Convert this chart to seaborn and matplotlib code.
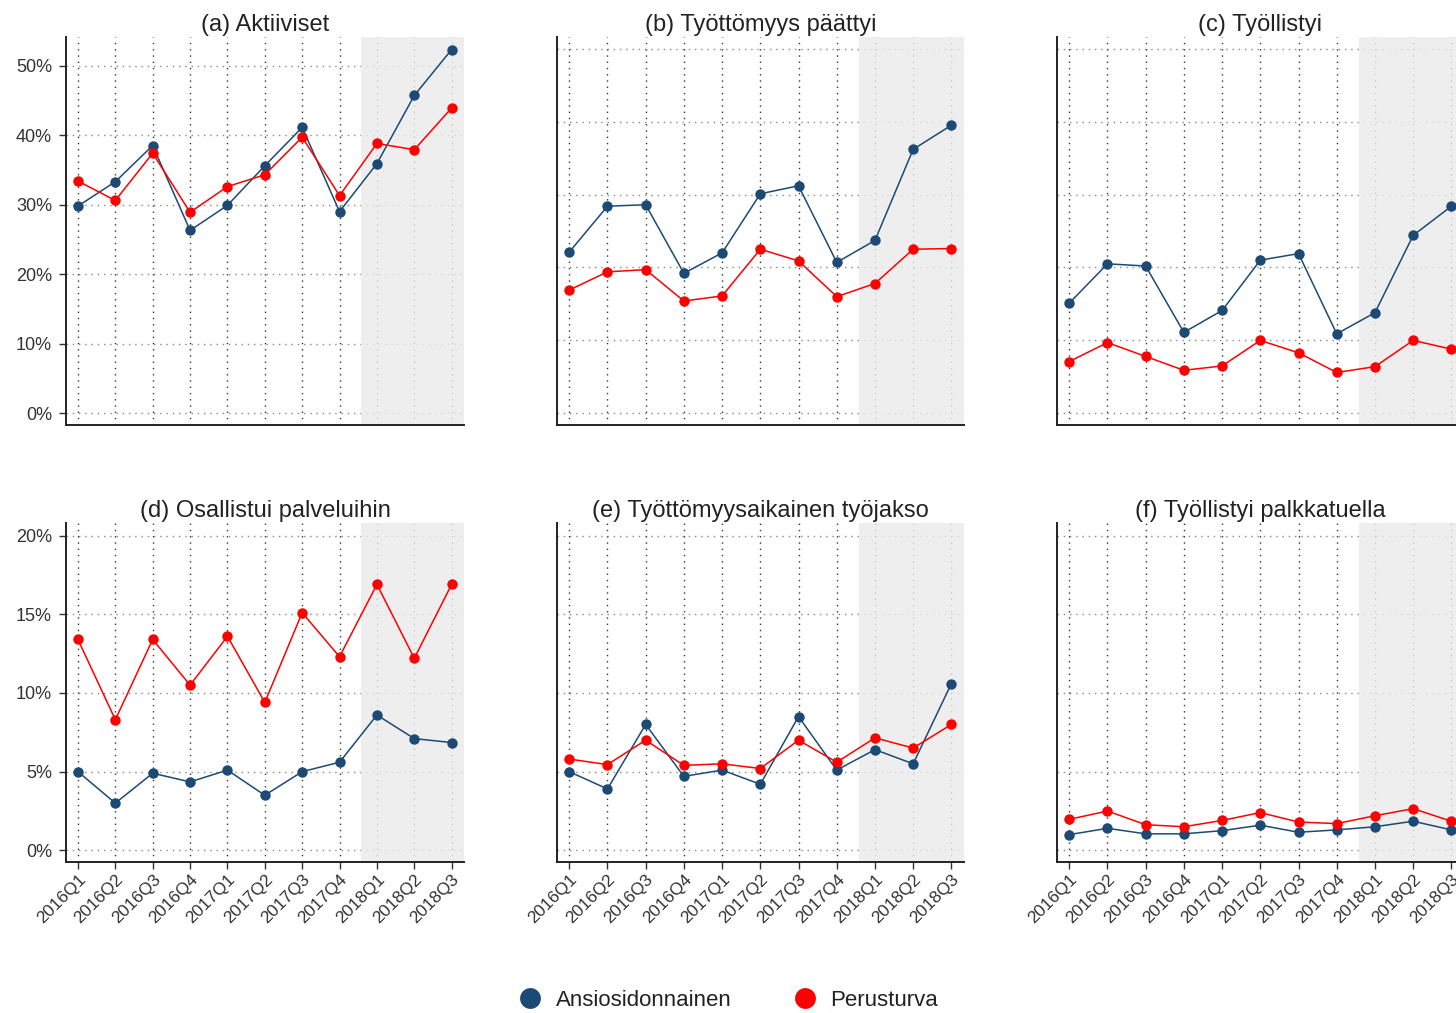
import numpy as np
import pandas as pd
import matplotlib
matplotlib.use("Agg")
import matplotlib.pyplot as plt
from matplotlib.lines import Line2D
from matplotlib.ticker import FuncFormatter
import seaborn as sns

quarters = ["2016Q1", "2016Q2", "2016Q3", "2016Q4", "2017Q1", "2017Q2",
            "2017Q3", "2017Q4", "2018Q1", "2018Q2", "2018Q3"]
series_names = ["Ansiosidonnainen", "Perusturva"]
titles = ["(a) Aktiiviset", "(b) Työttömyys päättyi", "(c) Työllistyi",
          "(d) Osallistui palveluihin", "(e) Työttömyysaikainen työjakso",
          "(f) Työllistyi palkkatuella"]

a_ansio = [29.8, 33.3, 38.5, 26.3, 29.9, 35.6, 41.1, 29.0, 35.9, 45.7, 52.3]
a_perus = [33.4, 30.6, 37.4, 28.9, 32.6, 34.3, 39.7, 31.3, 38.8, 37.9, 43.9]
b_ansio = [22.1, 28.4, 28.6, 19.2, 22.0, 30.1, 31.2, 20.7, 23.7, 36.2, 39.5]
b_perus = [16.9, 19.4, 19.7, 15.4, 16.1, 22.5, 20.9, 16.0, 17.8, 22.5, 22.6]
c_ansio = [15.1, 20.5, 20.2, 11.1, 14.1, 21.0, 21.9, 10.9, 13.8, 24.4, 28.4]
c_perus = [7.1, 9.7, 7.8, 5.9, 6.5, 10.0, 8.3, 5.6, 6.4, 10.0, 8.8]
d_ansio = [5.0, 3.0, 4.9, 4.35, 5.1, 3.5, 5.0, 5.6, 8.6, 7.1, 6.85]
d_perus = [13.4, 8.3, 13.4, 10.5, 13.6, 9.4, 15.1, 12.3, 16.9, 12.2, 16.9]
e_ansio = [5.0, 3.9, 8.0, 4.7, 5.1, 4.2, 8.5, 5.1, 6.4, 5.5, 10.6]
e_perus = [5.8, 5.45, 7.0, 5.4, 5.5, 5.2, 7.0, 5.6, 7.15, 6.5, 8.0]
f_ansio = [1.0, 1.4, 1.05, 1.05, 1.25, 1.6, 1.15, 1.3, 1.5, 1.85, 1.3]
f_perus = [1.97, 2.5, 1.63, 1.5, 1.9, 2.4, 1.8, 1.7, 2.2, 2.65, 1.85]

panel_data = [(a_ansio, a_perus), (b_ansio, b_perus), (c_ansio, c_perus),
              (d_ansio, d_perus), (e_ansio, e_perus), (f_ansio, f_perus)]

BLUE = "#1C4A74"
RED = "#FF0000"
palette = {series_names[0]: BLUE, series_names[1]: RED}

sns.set_theme(style="white")
plt.rcParams['font.family'] = ['Liberation Sans', 'DejaVu Sans']

W, H = 1456, 1013
fig = plt.figure(figsize=(W / 100, H / 100), dpi=100)

# axes boxes in pixels: left, top, right, bottom
boxes = [
    (66, 37, 464, 425), (557, 37, 964, 425), (1057, 37, 1464, 425),
    (66, 523, 464, 862), (557, 523, 964, 862), (1057, 523, 1464, 862),
]
ylims = [(-1.67, 54.1), (-1.6, 51.6), (-1.6, 51.6),
         (-0.74, 20.8), (-0.74, 20.8), (-0.74, 20.8)]
yticks_rows = [np.arange(0, 51, 10), np.arange(0, 21, 5)]

for i, (box, (s1, s2)) in enumerate(zip(boxes, panel_data)):
    l, t, r, b = box
    ax = fig.add_axes([l / W, 1 - b / H, (r - l) / W, (b - t) / H])
    x = np.arange(len(quarters))
    df = pd.DataFrame({
        "x": np.concatenate([x, x]),
        "value": s1 + s2,
        "series": [series_names[0]] * len(x) + [series_names[1]] * len(x),
    })
    ax.set_axisbelow(True)
    ax.grid(True, axis="x", linestyle=(0, (1, 3.5)), color="#333333", linewidth=1.0)
    ax.grid(True, axis="y", linestyle=(0, (1, 3.5)), color="#888888", linewidth=1.0)
    ax.axvspan(7.57, 10.6, color="#EBEBEB", alpha=0.82, zorder=1, lw=0)
    sns.lineplot(data=df, x="x", y="value", hue="series", palette=palette,
                 hue_order=series_names, marker="o", markersize=7.5,
                 markeredgewidth=0, linewidth=1.1, ax=ax, legend=False, zorder=3)
    ax.set_xlim(-0.32, 10.33)
    ax.set_ylim(*ylims[i])
    row = i // 3
    ax.set_yticks(yticks_rows[row])
    ax.set_xticks(x)
    ax.set_xlabel("")
    ax.set_ylabel("")
    ax.set_title(titles[i], fontsize=17, color="#222222", pad=4)
    for s in ["top", "right"]:
        ax.spines[s].set_visible(False)
    for s in ["left", "bottom"]:
        ax.spines[s].set_color("#222222")
        ax.spines[s].set_linewidth(1.4)
    if i % 3 == 0:
        ax.yaxis.set_major_formatter(FuncFormatter(lambda v, p: f"{v:.0f}%"))
        ax.tick_params(axis="y", which="both", left=True, length=5, width=1,
                       color="#333333", labelsize=13, labelcolor="#333333", pad=5)
    else:
        ax.tick_params(axis="y", left=False, labelleft=False)
    if row == 1:
        ax.set_xticklabels(quarters, rotation=45, ha="right", rotation_mode="anchor")
        ax.tick_params(axis="x", bottom=True, length=5, width=1, color="#333333",
                       labelsize=12.5, labelcolor="#333333", pad=2)
    else:
        ax.tick_params(axis="x", bottom=False, labelbottom=False)

handles = [Line2D([0], [0], marker="o", linestyle="", markersize=15,
                  markerfacecolor=palette[n], markeredgewidth=0, label=n)
           for n in series_names]
fig.legend(handles=handles, loc="lower center", bbox_to_anchor=(0.4965, -0.018),
           ncol=2, frameon=False, fontsize=16, handletextpad=0.15,
           columnspacing=2.3, labelcolor="#222222")

fig.savefig("out.png", dpi=100)
